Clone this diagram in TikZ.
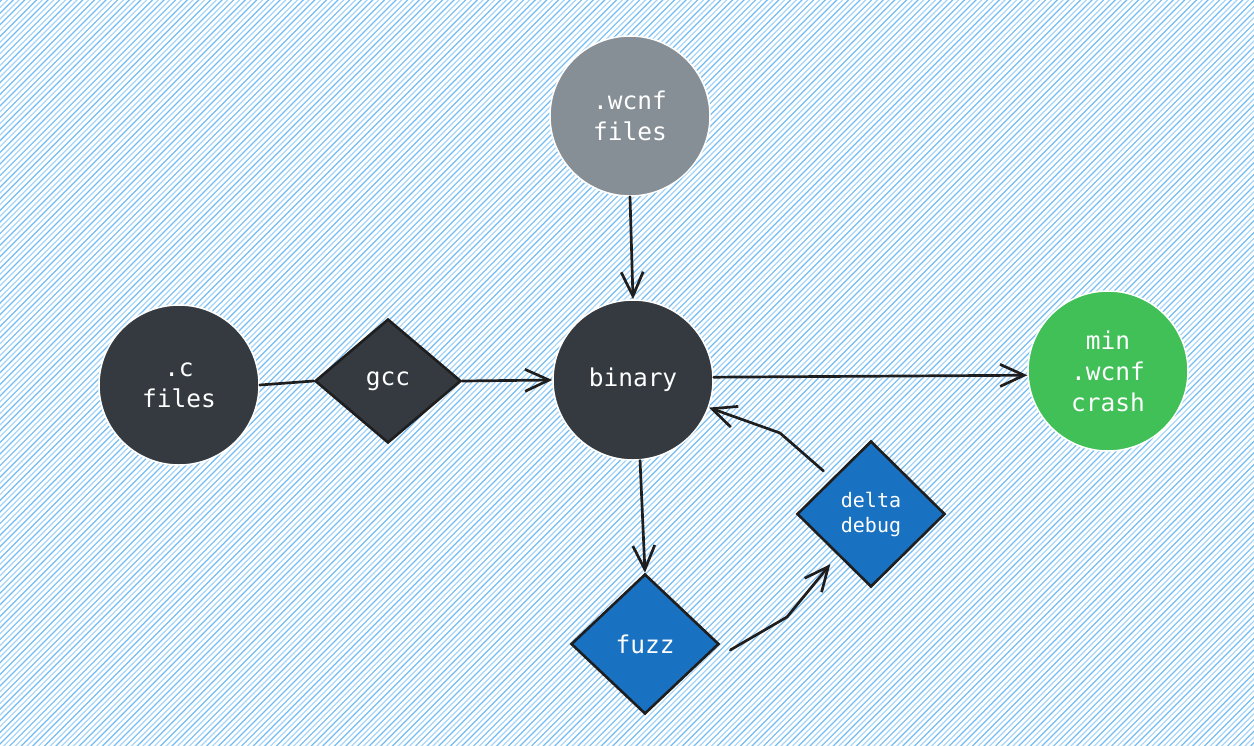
\documentclass[tikz,border=0pt]{standalone}
\usepackage{fontspec}
\newfontfamily\monof{DejaVu Sans Mono}
\usetikzlibrary{shapes.geometric,arrows.meta,calc}
\definecolor{darkfill}{HTML}{343A40}
\definecolor{grayfill}{HTML}{868E96}
\definecolor{greenfill}{HTML}{40C057}
\definecolor{bluefill}{HTML}{1971C2}
\definecolor{inkc}{HTML}{1E1E1E}
\definecolor{hatchA}{HTML}{74BCF4}
\definecolor{hatchB}{HTML}{A8D6FA}
\tikzset{
  blob/.style={circle, minimum size=160pt, inner sep=0pt, draw=white, line width=1.5pt, text=white, align=center, font=\monof\fontsize{24.5}{31}\selectfont},
  rhomb/.style={diamond, inner sep=0pt, draw=inkc, line width=2.6pt, text=white, align=center, font=\monof\fontsize{24.5}{31}\selectfont},
  conn/.style={draw=inkc, line width=2.7pt, line cap=round, line join=round},
  arr/.style={conn, -{Straight Barb[length=24pt,width=22pt,line width=2.7pt]}},
}
\begin{document}
\begin{tikzpicture}[x=1pt,y=-1pt]
\useasboundingbox (0,0) rectangle (1254,745);
\fill[white] (0,0) rectangle (1254,745);
\begin{scope}
\clip (0,0) rectangle (1254,745);
\foreach \k in {0,...,350} {
  \pgfmathsetmacro{\xs}{-760+\k*5.8}
  \ifodd\k
    \draw[hatchB, line width=1.2pt] (\xs,750) -- ({\xs+760},-10);
  \else
    \draw[hatchA, line width=1.2pt] (\xs,750) -- ({\xs+760},-10);
  \fi
}
\end{scope}

\node[blob, fill=darkfill] (cfiles) at (179,385) {.c\\files};
\node[rhomb, fill=darkfill, minimum width=146pt, minimum height=124pt] (gcc) at (388,381) {gcc};
\node[blob, fill=darkfill] (binary) at (633,380) {binary};
\node[blob, fill=grayfill] (wcnf) at (630,116) {.wcnf\\files};
\node[blob, fill=greenfill] (minc) at (1108,371) {min\\.wcnf\\crash};
\node[rhomb, fill=bluefill, minimum width=148pt, minimum height=140pt] (fuzz) at (645,644) {fuzz};
\node[rhomb, fill=bluefill, minimum width=148pt, minimum height=146pt, font=\monof\fontsize{20}{25}\selectfont] (delta) at (871,514) {delta\\debug};

\coordinate (m1) at (787,617);
\coordinate (m2) at (780,433);

\draw[conn] (cfiles.east) -- (gcc.west);
\draw[arr] (gcc.east) -- (binary.west);
\draw[arr] (wcnf.south) -- (binary.north);
\draw[arr] (binary.2) -- (minc.183);
\draw[arr] (binary.-85) -- (fuzz.north);
\draw[arr] ($(fuzz.east)+(10,6)$) -- (m1) -- ($(delta.south west)+(-3,13)$);
\draw[arr] ($(delta.north west)+(-10,-6)$) -- (m2) -- (binary.-20);
\end{tikzpicture}
\end{document}
